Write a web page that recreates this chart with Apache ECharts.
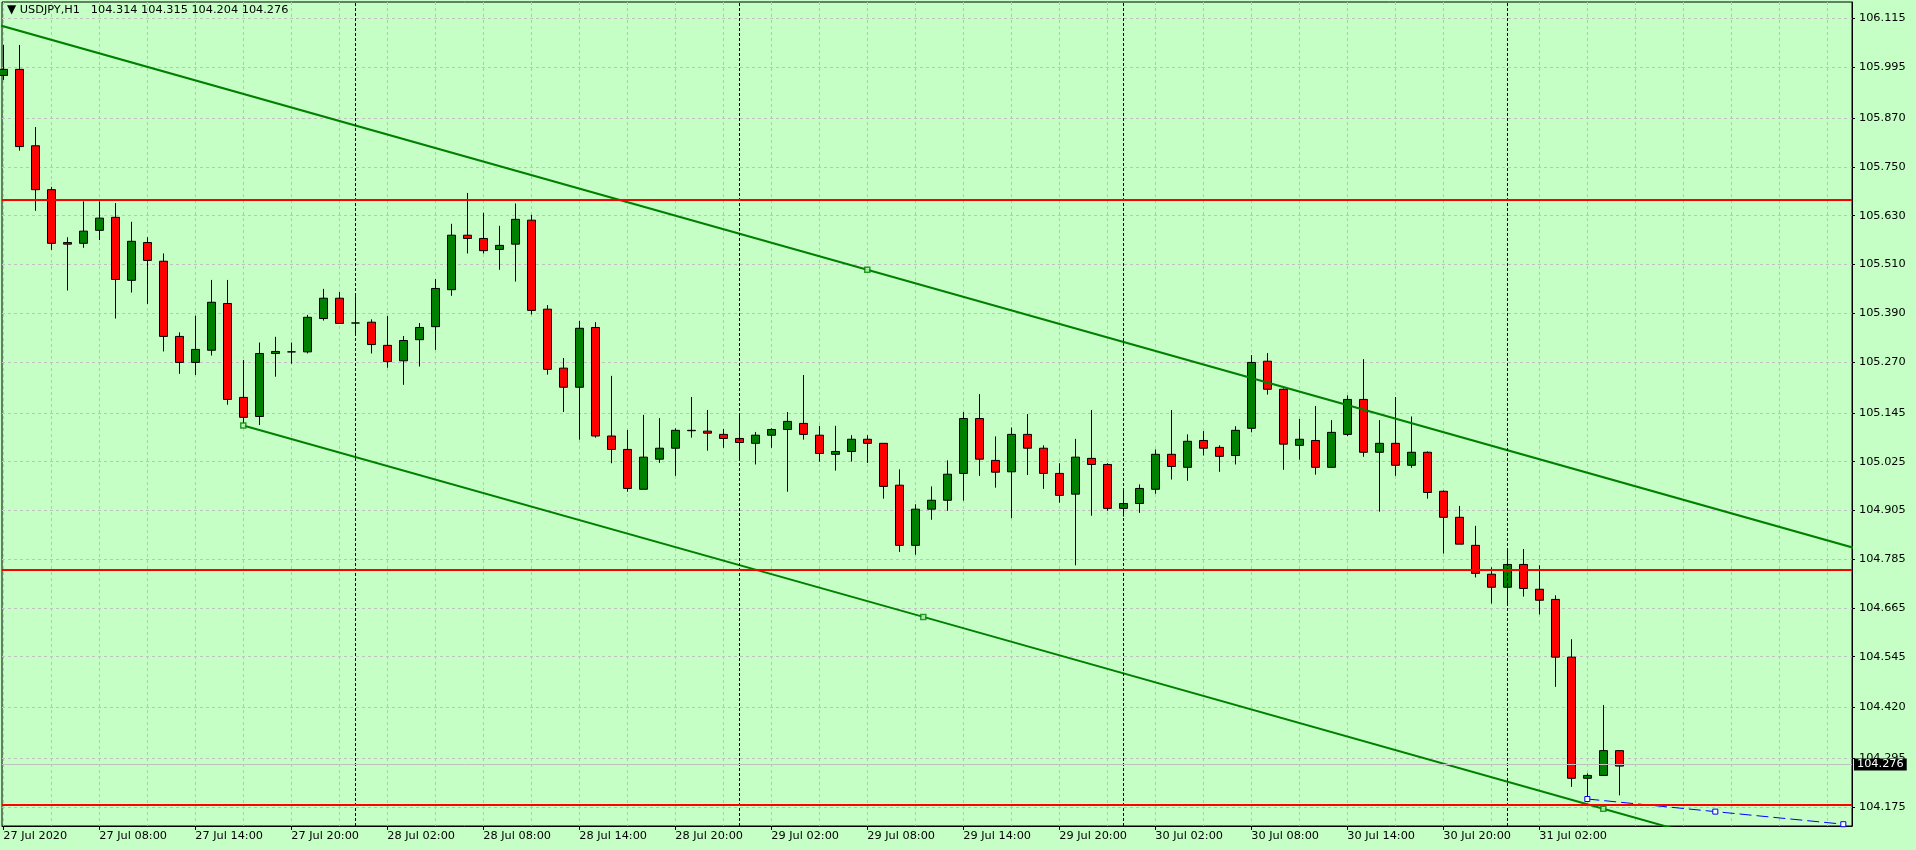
<!DOCTYPE html>
<html>
<head>
<meta charset="utf-8">
<title>USDJPY,H1</title>
<script src="https://cdn.jsdelivr.net/npm/echarts@6/dist/echarts.min.js"></script>
<style>
  html, body { margin: 0; padding: 0; background: #c6ffc6; }
  #chart { width: 1916px; height: 850px; }
</style>
</head>
<body>
<div id="chart"></div>
<script>
  // H1 bars, index 0 = 27 Jul 2020 02:00
  var symbolName = 'USDJPY';
  var period = 'H1';

  var opens = [105.975, 105.990, 105.802, 105.694, 105.564, 105.562, 105.594, 105.626, 105.471, 105.564,
    105.518, 105.333, 105.269, 105.299, 105.414, 105.183, 105.136, 105.291, 105.295, 105.295,
    105.377, 105.427, 105.366, 105.368, 105.311, 105.273, 105.325, 105.357, 105.448, 105.582,
    105.574, 105.547, 105.560, 105.619, 105.400, 105.255, 105.208, 105.355, 105.088, 105.055,
    104.957, 105.031, 105.058, 105.101, 105.100, 105.092, 105.082, 105.070, 105.090, 105.104,
    105.119, 105.090, 105.043, 105.050, 105.080, 105.070, 104.967, 104.819, 104.908, 104.930,
    104.996, 105.131, 105.028, 105.000, 105.092, 105.058, 104.996, 104.945, 105.033, 105.018,
    104.910, 104.922, 104.957, 105.043, 105.011, 105.077, 105.060, 105.040, 105.107, 105.272,
    105.203, 105.065, 105.077, 105.011, 105.092, 105.178, 105.048, 105.070, 105.016, 105.048,
    104.952, 104.888, 104.819, 104.748, 104.716, 104.772, 104.711, 104.686, 104.544, 104.246,
    104.253, 104.314];
  var highs = [106.050, 106.050, 105.848, 105.701, 105.577, 105.665, 105.665, 105.661, 105.615, 105.577,
    105.537, 105.343, 105.384, 105.472, 105.472, 105.275, 105.318, 105.332, 105.318, 105.386,
    105.450, 105.442, 105.432, 105.375, 105.383, 105.334, 105.366, 105.474, 105.610, 105.686,
    105.637, 105.605, 105.660, 105.632, 105.410, 105.280, 105.371, 105.368, 105.236, 105.103,
    105.140, 105.132, 105.107, 105.184, 105.152, 105.105, 105.137, 105.098, 105.107, 105.147,
    105.238, 105.113, 105.113, 105.090, 105.090, 105.070, 105.006, 104.920, 104.964, 105.028,
    105.147, 105.191, 105.087, 105.109, 105.142, 105.065, 105.021, 105.081, 105.152, 105.021,
    104.959, 104.969, 105.055, 105.152, 105.092, 105.100, 105.065, 105.112, 105.287, 105.292,
    105.205, 105.130, 105.162, 105.127, 105.188, 105.277, 105.127, 105.184, 105.136, 105.050,
    104.954, 104.916, 104.867, 104.765, 104.812, 104.810, 104.770, 104.696, 104.588, 104.258,
    104.426, 104.315];
  var lows = [105.964, 105.790, 105.642, 105.546, 105.446, 105.551, 105.570, 105.377, 105.441, 105.413,
    105.296, 105.241, 105.238, 105.286, 105.165, 105.119, 105.115, 105.234, 105.266, 105.291,
    105.372, 105.364, 105.337, 105.291, 105.256, 105.214, 105.259, 105.300, 105.433, 105.537,
    105.537, 105.497, 105.468, 105.387, 105.239, 105.147, 105.079, 105.084, 105.021, 104.951,
    104.957, 105.022, 104.990, 105.084, 105.052, 105.059, 105.027, 105.018, 105.059, 104.951,
    105.079, 105.025, 105.003, 105.025, 105.022, 104.934, 104.803, 104.796, 104.882, 104.904,
    104.929, 104.990, 104.961, 104.886, 104.992, 104.958, 104.924, 104.770, 104.892, 104.904,
    104.890, 104.899, 104.946, 104.981, 104.978, 105.040, 105.000, 105.018, 105.097, 105.190,
    105.005, 105.030, 104.993, 105.010, 105.088, 105.037, 104.902, 104.990, 105.010, 104.934,
    104.799, 104.822, 104.740, 104.676, 104.673, 104.693, 104.649, 104.471, 104.225, 104.195,
    104.252, 104.204];
  var closes = [105.990, 105.800, 105.694, 105.562, 105.560, 105.592, 105.624, 105.473, 105.567, 105.520,
    105.333, 105.269, 105.301, 105.417, 105.178, 105.134, 105.291, 105.296, 105.295, 105.380,
    105.427, 105.365, 105.366, 105.313, 105.271, 105.323, 105.355, 105.451, 105.582, 105.574,
    105.544, 105.557, 105.621, 105.397, 105.252, 105.208, 105.353, 105.088, 105.055, 104.959,
    105.036, 105.058, 105.102, 105.102, 105.095, 105.082, 105.072, 105.090, 105.104, 105.124,
    105.092, 105.045, 105.050, 105.080, 105.070, 104.964, 104.819, 104.908, 104.930, 104.994,
    105.131, 105.031, 104.999, 105.092, 105.058, 104.996, 104.942, 105.036, 105.018, 104.910,
    104.922, 104.959, 105.043, 105.013, 105.075, 105.058, 105.038, 105.102, 105.269, 105.203,
    105.068, 105.080, 105.011, 105.097, 105.178, 105.048, 105.070, 105.016, 105.048, 104.949,
    104.888, 104.822, 104.750, 104.716, 104.772, 104.713, 104.684, 104.544, 104.246, 104.253,
    104.314, 104.276];

  // time axis
  var xTickIdx = [0, 6, 12, 18, 24, 30, 36, 42, 48, 54, 60, 66, 72, 78, 84, 90, 96];
  var xTickLabels = ['27 Jul 2020', '27 Jul 08:00', '27 Jul 14:00', '27 Jul 20:00', '28 Jul 02:00',
    '28 Jul 08:00', '28 Jul 14:00', '28 Jul 20:00', '29 Jul 02:00', '29 Jul 08:00', '29 Jul 14:00',
    '29 Jul 20:00', '30 Jul 02:00', '30 Jul 08:00', '30 Jul 14:00', '30 Jul 20:00', '31 Jul 02:00'];
  var xGridIdx = [0, 3, 6, 9, 12, 15, 18, 21, 24, 27, 30, 33, 36, 39, 42, 45, 48, 51, 54, 57, 60,
    63, 66, 69, 72, 75, 78, 81, 84, 87, 90, 93, 96, 99, 102, 105, 108, 111, 114];
  var daySeps = [22, 46, 70, 94];

  // price axis
  var yTicks = [106.115, 105.995, 105.870, 105.750, 105.630, 105.510, 105.390, 105.270, 105.145,
    105.025, 104.905, 104.785, 104.665, 104.545, 104.420, 104.295, 104.175];

  // objects drawn on the chart
  var hLevels = [105.667, 104.764, 104.183];
  var lastPrice = 104.276;
  var channelUpper = [[-1, 106.107], [54, 105.497], [117, 104.798]];
  var channelLower = [[15, 105.114], [57.5, 104.643], [100, 104.171], [125, 103.894]];
  var channelPoints = [[54, 105.497], [15, 105.114], [57.5, 104.643], [100, 104.171]];
  var blueLine = [[99, 104.195], [107, 104.164], [115, 104.133]];

  var FONT = 'DejaVu Sans';
  var FS = 11.3;
  var BG = '#c6ffc6';

  var candles = opens.map(function (o, i) {
    return [i, o, closes[i], lows[i], highs[i]];
  });
  var n = opens.length - 1;
  var titleText = symbolName + ',' + period + '   ' +
    [opens[n], highs[n], lows[n], closes[n]].map(function (v) { return v.toFixed(3); }).join(' ');

  var chart = echarts.init(document.getElementById('chart'));

  var option = {
    backgroundColor: BG,
    animation: false,
    textStyle: { fontFamily: FONT },
    title: {
      text: '{tri|▼} ' + titleText,
      left: 7,
      top: 4,
      padding: 0,
      textStyle: {
        fontFamily: FONT, fontSize: FS, fontWeight: 'normal', color: '#000',
        rich: { tri: { fontFamily: 'DejaVu Sans', fontSize: 12, color: '#000' } }
      }
    },
    grid: {
      left: 2, right: 64, top: 2, bottom: 24,
      show: true, borderColor: '#000', borderWidth: 1, backgroundColor: 'transparent',
      containLabel: false, outerBoundsMode: 'none'
    },
    xAxis: [{
      type: 'value', min: -0.08125, max: 115.54375, position: 'bottom',
      axisLine: { show: true, onZero: false, lineStyle: { color: '#000', width: 1 } },
      axisTick: { show: true, customValues: xTickIdx, length: 4, lineStyle: { color: '#000' } },
      axisLabel: {
        show: true, customValues: xTickIdx, align: 'left', margin: 5, hideOverlap: false,
        color: '#000', fontFamily: FONT, fontSize: FS,
        formatter: function (v) {
          var k = xTickIdx.indexOf(Math.round(v));
          return k >= 0 ? xTickLabels[k] : '';
        }
      },
      splitLine: { show: false }
    }, {
      type: 'value', min: -0.08125, max: 115.54375, position: 'bottom',
      axisLine: { show: false },
      axisTick: { show: false, customValues: xGridIdx },
      axisLabel: { show: false },
      splitLine: { show: true, lineStyle: { color: '#c0c0c0', type: [3, 3], width: 1 } }
    }],
    yAxis: {
      type: 'value', position: 'right', min: 104.1286, max: 106.1557,
      axisLine: { show: true, onZero: false, lineStyle: { color: '#000', width: 1 } },
      axisTick: { show: true, customValues: yTicks, length: 3, lineStyle: { color: '#000' } },
      axisLabel: {
        customValues: yTicks, align: 'left', margin: 7, hideOverlap: false,
        color: '#000', fontFamily: FONT, fontSize: FS,
        formatter: function (v) { return v.toFixed(3); }
      },
      splitLine: { show: true, lineStyle: { color: '#c0c0c0', type: [3, 3], width: 1 } }
    },
    series: [
      {
        // day separators
        type: 'line', data: [], z: 1, silent: true,
        markLine: {
          silent: true, symbol: ['none', 'none'], animation: false,
          label: { show: false },
          lineStyle: { color: '#000', type: [3, 2], width: 1 },
          data: daySeps.map(function (v) { return { xAxis: v }; })
        }
      },
      {
        // last price line
        type: 'line', data: [], z: 1, silent: true,
        markLine: {
          silent: true, symbol: ['none', 'none'], animation: false,
          lineStyle: { color: '#c0c0c0', type: 'solid', width: 1 },
          label: {
            show: true, position: 'end', distance: 2,
            formatter: lastPrice.toFixed(3),
            backgroundColor: '#000', color: '#fff', padding: [1, 3, 0, 3],
            fontFamily: FONT, fontSize: FS
          },
          data: [{ yAxis: lastPrice }]
        }
      },
      {
        name: symbolName,
        type: 'candlestick',
        data: candles,
        encode: { x: 0, y: [1, 2, 3, 4] },
        barWidth: 9,
        clip: true,
        z: 2,
        silent: true,
        itemStyle: {
          color: '#008000', color0: '#ff0000',
          borderColor: '#000', borderColor0: '#000', borderColorDoji: '#000',
          borderWidth: 1
        },
        emphasis: { disabled: true }
      },
      {
        // horizontal levels
        type: 'line', data: [], z: 3, silent: true,
        markLine: {
          silent: true, symbol: ['none', 'none'], animation: false,
          label: { show: false },
          lineStyle: { color: '#ff0000', type: 'solid', width: 2 },
          data: hLevels.map(function (v) { return { yAxis: v }; })
        }
      },
      {
        type: 'line', data: channelUpper, z: 4, silent: true, clip: true,
        symbol: 'none', lineStyle: { color: '#008000', width: 2 }
      },
      {
        type: 'line', data: channelLower, z: 4, silent: true, clip: true,
        symbol: 'none', lineStyle: { color: '#008000', width: 2 }
      },
      {
        type: 'scatter', data: channelPoints, z: 5, silent: true,
        symbol: 'rect', symbolSize: 5,
        itemStyle: { color: BG, borderColor: '#008000', borderWidth: 1.5 }
      },
      {
        type: 'line', data: blueLine, z: 4, silent: true, clip: true,
        symbol: 'rect', symbolSize: 5, showSymbol: true,
        lineStyle: { color: '#0000ff', width: 1, type: [12, 5] },
        itemStyle: { color: '#ffffff', borderColor: '#0000ff', borderWidth: 1 }
      }
    ]
  };

  chart.setOption(option);
</script>
</body>
</html>
